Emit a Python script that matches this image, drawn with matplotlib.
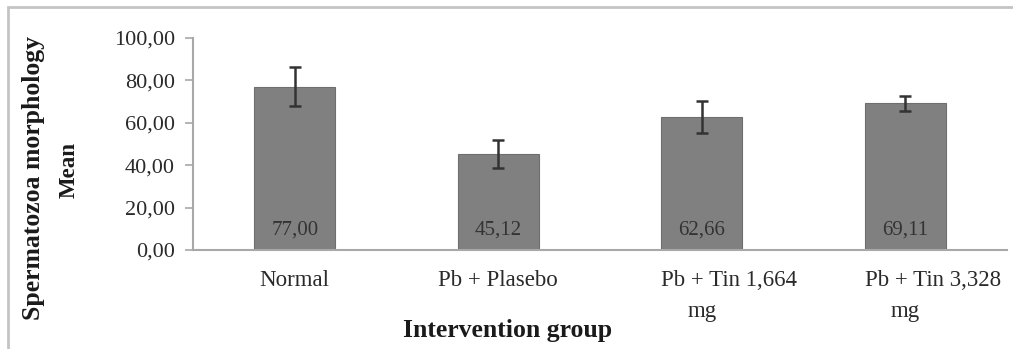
import matplotlib
matplotlib.use("Agg")
import matplotlib.pyplot as plt
from matplotlib.patches import Rectangle
import matplotlib.transforms as mtransforms

categories = ["Normal", "Pb + Plasebo", "Pb + Tin 1,664 mg", "Pb + Tin 3,328 mg"]
means = [77.00, 45.12, 62.66, 69.11]
errors = [9.2, 6.6, 7.6, 3.5]
value_labels = ["77,00", "45,12", "62,66", "69,11"]
yticks = [0, 20, 40, 60, 80, 100]
ytick_labels = ["0,00", "20,00", "40,00", "60,00", "80,00", "100,00"]

plt.rcParams['font.family'] = ['Liberation Serif', 'DejaVu Serif']

fig = plt.figure(figsize=(10.13, 3.49), dpi=100)
ax = fig.add_axes([193/1013, 1-250/349, (1007-193)/1013, (250-38)/349])

x = list(range(len(categories)))
ax.bar(x, means, width=0.4, color='#808080', edgecolor='#6e6e6e', linewidth=0.8, zorder=2)
ax.errorbar(x, means, yerr=errors, fmt='none', ecolor='#333333', elinewidth=1.8,
            capsize=4, capthick=1.8, zorder=3)

for xi, lab in zip(x, value_labels):
    ax.text(xi, 9.5, lab, ha='center', va='center', fontsize=15, color='#333333', zorder=4)

ax.set_xlim(-0.5, 3.5)
ax.set_ylim(0, 100)
ax.set_yticks(yticks)
ax.set_yticklabels(ytick_labels, fontsize=16, color='#2a2a2a')
ax.set_xticks([])

for s in ['top', 'right']:
    ax.spines[s].set_visible(False)
for s in ['left', 'bottom']:
    ax.spines[s].set_color('#a8a8a8')
    ax.spines[s].set_linewidth(1.5)
ax.tick_params(axis='y', direction='out', length=6, width=1.2, color='#a8a8a8', pad=7)

trans = mtransforms.blended_transform_factory(ax.transData, fig.transFigure)
y1 = 1 - 280/349
y2 = 1 - 311/349
for i, cat in enumerate(categories):
    if cat.endswith(" mg"):
        first = cat[:-3]
        ax.text(i - 0.2, y1, first, ha='left', va='center', fontsize=16.5, color='#2a2a2a',
                transform=trans, clip_on=False)
        ax.text(i, y2, "mg", ha='center', va='center', fontsize=16.5, color='#2a2a2a',
                transform=trans, clip_on=False)
    else:
        ax.text(i, y1, cat, ha='center', va='center', fontsize=16.5, color='#2a2a2a',
                transform=trans, clip_on=False)

fig.text(508/1013, 1 - 330/349, "Intervention group", ha='center', va='center',
         fontsize=18.5, fontweight='bold', color='#1a1a1a')
fig.text(34/1013, 1 - 178/349, "Spermatozoa morphology", ha='center', va='center',
         rotation=90, fontsize=18.5, fontweight='bold', color='#1a1a1a')
fig.text(69/1013, 1 - 170/349, "Mean", ha='center', va='center',
         rotation=90, fontsize=16.5, fontweight='bold', color='#1a1a1a')

fig.patches.append(Rectangle((8/1013, -0.05), 1.2, 1 - 7/349 + 0.05, transform=fig.transFigure,
                             fill=False, edgecolor='#c4c4c4', linewidth=2))

fig.savefig("out.png", dpi=100)
